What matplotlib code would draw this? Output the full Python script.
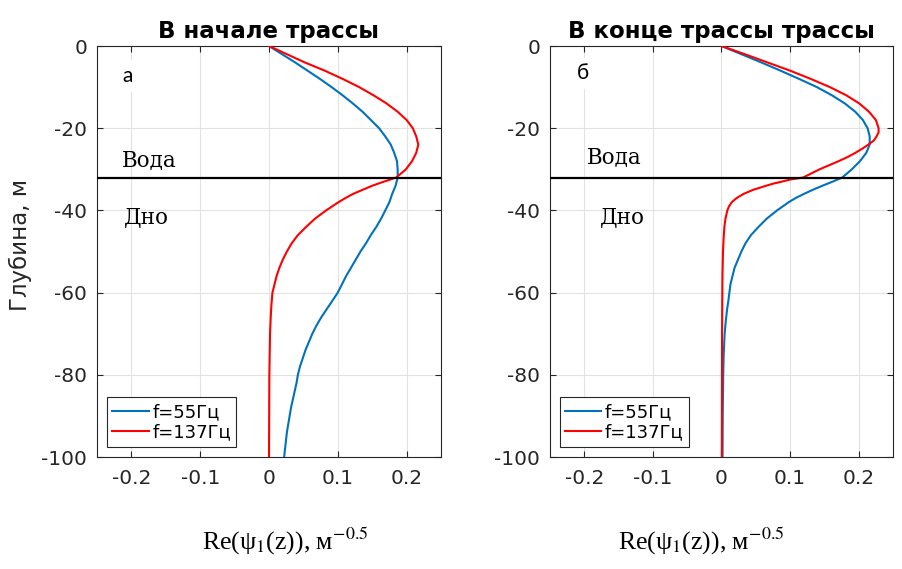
import numpy as np
import matplotlib
matplotlib.use('Agg')
from matplotlib import pyplot as plt

plt.rcParams['font.family'] = ['DejaVu Sans']
plt.rcParams['axes.unicode_minus'] = False
plt.rcParams['mathtext.fontset'] = 'stix'

# depth, m  /  Re(psi1) values
z_start_55 = [0, -2, -4, -6, -8, -10, -12, -14, -16, -18, -20, -22, -24, -26, -28, -30, -32,
              -34, -36, -38, -40, -42, -44, -46, -48, -50, -52, -54, -56, -58, -60, -62, -64,
              -66, -68, -70, -72, -74, -76, -78, -80, -82, -85, -88, -91, -94, -97, -100]
x_start_55 = [0, 0.019, 0.038, 0.056, 0.074, 0.091, 0.107, 0.122, 0.136, 0.148, 0.160, 0.169, 0.177,
              0.182, 0.186, 0.187, 0.187,
              0.184, 0.179, 0.175, 0.169, 0.163, 0.156, 0.148, 0.141, 0.133, 0.126, 0.119, 0.112,
              0.106, 0.100, 0.092, 0.084, 0.076, 0.069, 0.063, 0.058, 0.053, 0.049, 0.045, 0.042,
              0.040, 0.036, 0.032, 0.029, 0.026, 0.024, 0.022]

z_start_137 = [0, -2, -4, -6, -8, -10, -12, -14, -16, -18, -20, -22, -24, -26, -28, -30, -32,
               -33, -34, -35, -36, -37, -38, -40, -42, -44, -46, -48, -50, -52, -54, -56, -58,
               -60, -63, -66, -70, -80, -100]
x_start_137 = [0, 0.026, 0.052, 0.081, 0.107, 0.131, 0.152, 0.171, 0.187, 0.200, 0.209, 0.214, 0.217,
               0.214, 0.208, 0.199, 0.185,
               0.167, 0.150, 0.136, 0.122, 0.111, 0.101, 0.083, 0.067, 0.054, 0.042, 0.033, 0.026,
               0.020, 0.015, 0.011, 0.008, 0.005, 0.0035, 0.0025, 0.0015, 0.0005, 0.0]

z_end_55 = [0, -2, -4, -6, -8, -10, -12, -14, -16, -18, -20, -22, -24, -26, -28, -30, -32,
            -33, -34, -35, -36, -37, -38, -40, -42, -44, -46, -48, -50, -52, -54, -56, -58,
            -60, -62, -64, -67, -70, -75, -80, -90, -100]
x_end_55 = [0, 0.029, 0.058, 0.086, 0.113, 0.139, 0.161, 0.180, 0.195, 0.206, 0.213, 0.216, 0.216,
            0.211, 0.202, 0.190, 0.176,
            0.162, 0.147, 0.133, 0.120, 0.108, 0.098, 0.081, 0.066, 0.054, 0.043, 0.035, 0.029,
            0.024, 0.019, 0.016, 0.013, 0.0115, 0.010, 0.0082, 0.0062, 0.0046, 0.0032, 0.0025,
            0.0018, 0.0015]

z_end_137 = [0, -2, -4, -6, -8, -10, -12, -14, -16, -18, -20, -21, -22, -23, -24, -25, -26, -27,
             -28, -29, -30, -31, -32, -32.5, -33, -33.5, -34, -35, -36, -37, -38, -39, -40, -42,
             -44, -47, -50, -55, -60, -70, -100]
x_end_137 = [0, 0.034, 0.067, 0.100, 0.130, 0.158, 0.182, 0.201, 0.215, 0.225, 0.229, 0.229, 0.226,
             0.222, 0.214, 0.205, 0.195, 0.184, 0.171, 0.157, 0.143, 0.131, 0.119, 0.100, 0.088,
             0.075, 0.065, 0.046, 0.032, 0.022, 0.015, 0.011, 0.0085, 0.0058, 0.0042, 0.003,
             0.0022, 0.0015, 0.0012, 0.0008, 0.0005]

bottom_depth = -32
labels = ['f=55Гц', 'f=137Гц']
titles = ['В начале трассы', 'В конце трассы трассы']
panel_marks = ['а', 'б']
xticks = [-0.2, -0.1, 0, 0.1, 0.2]
yticks = [-100, -80, -60, -40, -20, 0]

blue = '#0072BD'
red = '#FF0000'
dark = '#262626'

fig = plt.figure(figsize=(9.03, 5.69), dpi=100)
W, H = 903.0, 569.0
ax1 = fig.add_axes([97 / W, 1 - 457 / H, 344 / W, 411 / H])
ax2 = fig.add_axes([550 / W, 1 - 457 / H, 343 / W, 411 / H])

curves = [(z_start_55, x_start_55, z_start_137, x_start_137),
          (z_end_55, x_end_55, z_end_137, x_end_137)]
mark_pos = [(-0.2137, -7.3), (-0.2106, -6.6)]
voda_pos = [(-0.2137, -27.7), (-0.196, -27.0)]
dno_pos = [(-0.2108, -41.6), (-0.177, -41.6)]
serif = ['DejaVu Serif']

for i, ax in enumerate([ax1, ax2]):
    za, xa, zb, xb = curves[i]
    ax.plot(xa, za, color=blue, lw=1.5, label=labels[0], zorder=3)
    ax.plot(xb, zb, color=red, lw=1.5, label=labels[1], zorder=3)
    ax.axhline(bottom_depth, color='black', lw=1.6, zorder=4)
    ax.set_xlim(-0.25, 0.25)
    ax.set_ylim(-100, 0)
    ax.set_xticks(xticks)
    ax.set_xticklabels(['-0.2', '-0.1', '0', '0.1', '0.2'])
    ax.set_yticks(yticks)
    ax.grid(True, color='#e2e2e2', lw=0.8, zorder=0)
    ax.set_axisbelow(True)
    ax.tick_params(direction='in', top=True, right=True, length=4, width=0.8,
                   color=dark, labelcolor=dark, labelsize=14.5)
    ax.tick_params(axis='x', pad=9)
    ax.tick_params(axis='y', pad=7)
    for s in ax.spines.values():
        s.set_color(dark)
        s.set_linewidth(0.8)
    ax.set_title(titles[i], fontsize=16.5, fontweight='bold', pad=6, color='black')
    ax.text(mark_pos[i][0], mark_pos[i][1], panel_marks[i], fontsize=15, family=['Lato', 'DejaVu Sans'],
            ha='left', va='center', zorder=5,
            bbox=dict(facecolor='white', edgecolor='none', pad=4))
    ax.text(voda_pos[i][0], voda_pos[i][1], 'Вода', fontsize=15.5, family=serif,
            ha='left', va='center', zorder=5)
    ax.text(dno_pos[i][0], dno_pos[i][1], 'Дно', fontsize=15.5, family=serif,
            ha='left', va='center', zorder=5)
    leg = ax.legend(loc='lower left', bbox_to_anchor=(10 / 344, 10 / 411), borderaxespad=0,
                    fancybox=False, edgecolor=dark, framealpha=1, fontsize=13,
                    handlelength=2.0, handletextpad=0.2, borderpad=0.3, labelspacing=0.15)
    leg.get_frame().set_linewidth(0.8)

xlab = 'Re(ψ$_{1}$(z)), м$^{-0.5}$'
fig.text(285 / W, 1 - 541 / H, xlab, ha='center', va='center', fontsize=18.5,
         family=['Liberation Serif', 'DejaVu Serif'])
fig.text(701 / W, 1 - 541 / H, xlab, ha='center', va='center', fontsize=18.5,
         family=['Liberation Serif', 'DejaVu Serif'])
fig.text(20 / W, 1 - 245 / H, 'Глубина, м', rotation=90, ha='center', va='center',
         fontsize=16.5, color=dark)

fig.savefig('out.png', dpi=100)
